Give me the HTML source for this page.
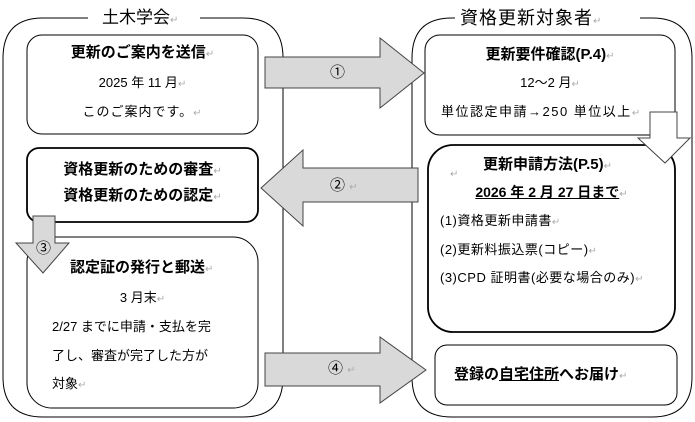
<!DOCTYPE html>
<html><head><meta charset="utf-8"><style>
body{margin:0;width:695px;height:422px;background:#fff;position:relative;overflow:hidden;font-family:"Liberation Sans","Noto Sans CJK JP",sans-serif;color:#000}
.t{position:absolute;white-space:nowrap;font-size:13px;line-height:16px}
.b{font-weight:bold;font-size:15px}
.r{color:#aaa;font-size:10px;font-weight:normal}
.c{text-align:center}
</style></head><body>
<svg width="695" height="422" style="position:absolute;left:0;top:0">
<g fill="none" stroke="#000" stroke-width="1">
<path d="M88 18 H43 Q3 18 3 58 V377 Q3 417 43 417 H243 Q283 417 283 377 V58 Q283 18 243 18 H200"/>
<path d="M455 18 H452 Q412 18 412 58 V377 Q412 417 452 417 H652 Q692 417 692 377 V58 Q692 18 652 18 H640"/>
<rect x="27" y="35" width="231" height="99" rx="15"/>
<rect x="27" y="148" width="231" height="74" rx="12" stroke-width="1.8"/>
<rect x="27" y="237" width="231" height="171" rx="25"/>
<rect x="425" y="35" width="250" height="100" rx="15"/>
<rect x="428" y="145" width="247" height="187" rx="25" stroke-width="1.8"/>
<rect x="435" y="345" width="242" height="60" rx="12"/>
</g>
<g fill="#d9d9d9" stroke="#444" stroke-width="1">
<path d="M265 57 H380 V38 L424 73 L380 108 V88 H265 Z"/>
<path d="M418 168 H303 V150 L261 188 L303 226 V202 H418 Z"/>
<path d="M265 353 H380 V337 L426 370 L380 403 V386 H265 Z"/>
<path d="M33 216 H55 V243 H69 L43 273 L16 243 H33 Z"/>
</g>
<path d="M650 112 H677 V138 H690 L665 163 L638 138 H650 Z" fill="#fff" stroke="#444"/>
</svg>
<div class="t" style="left:100px;top:8px;font-size:17px;line-height:20px;background:#fff;padding:0 2px">土木学会<span class="r">↵</span></div>
<div class="t" style="left:458px;top:8px;font-size:18px;line-height:20px;background:#fff;padding:0 2px;letter-spacing:1px">資格更新対象者<span class="r">↵</span></div>

<div class="t b c" style="left:27px;width:231px;top:45px">更新のご案内を送信<span class="r">↵</span></div>
<div class="t c" style="left:27px;width:231px;top:75px">2025 年 11 月<span class="r">↵</span></div>
<div class="t c" style="left:27px;width:231px;top:104px;letter-spacing:1px">このご案内です。<span class="r">↵</span></div>

<div class="t b c" style="left:27px;width:231px;top:162px">資格更新のための審査<span class="r">↵</span></div>
<div class="t b c" style="left:27px;width:231px;top:188px">資格更新のための認定<span class="r">↵</span></div>

<div class="t" style="left:36px;top:241px;font-size:15px">③</div>
<div class="t b" style="left:70px;top:260px">認定証の発行と郵送<span class="r">↵</span></div>
<div class="t c" style="left:27px;width:231px;top:290px">3 月末<span class="r">↵</span></div>
<div class="t" style="left:52px;top:319px">2/27 までに申請・支払を完</div>
<div class="t" style="left:52px;top:348px">了し、審査が完了した方が</div>
<div class="t" style="left:52px;top:376px">対象<span class="r">↵</span></div>

<div class="t" style="left:330px;top:65px;font-size:15px">①</div>
<div class="t" style="left:330px;top:178px;font-size:15px">② <span class="r">↵</span></div>
<div class="t" style="left:328px;top:361px;font-size:15px">④ <span class="r">↵</span></div>

<div class="t b c" style="left:425px;width:250px;top:47px">更新要件確認(P.4)<span class="r">↵</span></div>
<div class="t c" style="left:425px;width:250px;top:75px">12～2 月<span class="r">↵</span></div>
<div class="t" style="left:441px;top:104px;letter-spacing:1.5px">単位認定申請→250 単位以上<span class="r">↵</span></div>

<div class="t" style="left:450px;top:165px"><span class="r">↵</span></div>
<div class="t b" style="left:483px;top:157px">更新申請方法(P.5)<span class="r">↵</span></div>
<div class="t b c" style="left:428px;width:247px;top:184px;font-size:14px"><u>2026 年 2 月 27 日まで</u><span class="r">↵</span></div>
<div class="t" style="left:440px;top:213px;letter-spacing:0.5px">(1)資格更新申請書<span class="r">↵</span></div>
<div class="t" style="left:440px;top:242px;letter-spacing:0.5px">(2)更新料振込票(コピー)<span class="r">↵</span></div>
<div class="t" style="left:440px;top:270px;letter-spacing:0.5px">(3)CPD 証明書(必要な場合のみ)<span class="r">↵</span></div>

<div class="t b" style="left:454px;top:367px">登録の<u>自宅住所</u>へお届け<span class="r">↵</span></div>
</body></html>
